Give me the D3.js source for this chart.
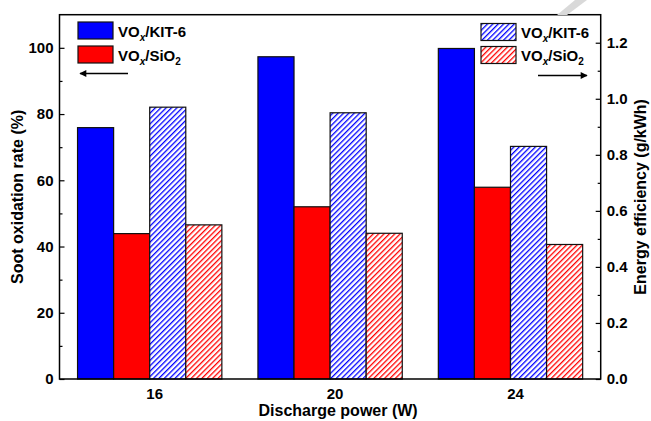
<!DOCTYPE html>
<html>
<head>
<meta charset="utf-8">
<title>Soot oxidation rate and energy efficiency</title>
<script src="https://cdn.jsdelivr.net/npm/d3@7"></script>
<style>
  body { margin: 0; background: #fff; }
  svg { font-family: "Liberation Sans", Arial, sans-serif; font-weight: bold; }
  .axis path { display: none; }
  .axis line { stroke: #000; stroke-width: 1.2px; }
  .axis text { font-size: 15px; font-weight: bold; fill: #000; }
  .frame { fill: none; stroke: #000; stroke-width: 1.5px; }
  .title { font-size: 16px; font-weight: bold; fill: #000; }
  .leg { font-size: 15px; font-weight: bold; fill: #000; }
</style>
</head>
<body>
<svg width="651" height="421"></svg>
<script>
// data
var powers = ["16", "20", "24"];
var kitRate = [75.9, 97.3, 99.8];   // VOx/KIT-6, soot oxidation rate (%)
var sioRate = [43.9, 52.0, 57.9];   // VOx/SiO2, soot oxidation rate (%)
var kitEff = [0.97, 0.95, 0.83];    // VOx/KIT-6, energy efficiency (g/kWh)
var sioEff = [0.55, 0.52, 0.48];    // VOx/SiO2, energy efficiency (g/kWh)
var leftTicks = [0, 20, 40, 60, 80, 100];
var rightTicks = [0, 0.2, 0.4, 0.6, 0.8, 1.0, 1.2];

var svg = d3.select("svg"),
    margin = {top: 14.7, right: 50.3, bottom: 42, left: 59.5},
    width = 651 - margin.left - margin.right,
    height = 421 - margin.top - margin.bottom,
    g = svg.append("g").attr("transform", "translate(" + margin.left + "," + margin.top + ")");

var defs = svg.append("defs");
function hatch(id, color) {
  var p = defs.append("pattern")
      .attr("id", id)
      .attr("patternUnits", "userSpaceOnUse")
      .attr("width", 3.8).attr("height", 3.8)
      .attr("patternTransform", "rotate(45)");
  p.append("rect").attr("width", 3.8).attr("height", 3.8).attr("fill", "#fff");
  p.append("line").attr("x1", 0).attr("y1", 0).attr("x2", 0).attr("y2", 3.8)
      .attr("stroke", color).attr("stroke-width", 2.6);
}
hatch("hb", "#0000ff");
hatch("hr", "#ff0000");

// watermark stripe
svg.append("polygon")
    .attr("points", "575,0 587,0 567,15 557,15")
    .attr("fill", "#d9d9d9");

var x0 = d3.scaleBand().domain(powers).range([0, width]).paddingInner(0.2).paddingOuter(0.1);
var series = [
  {key: "kitRate", vals: kitRate, axis: "L", fill: "#0000ff"},
  {key: "sioRate", vals: sioRate, axis: "L", fill: "#ff0000"},
  {key: "kitEff", vals: kitEff, axis: "R", fill: "url(#hb)"},
  {key: "sioEff", vals: sioEff, axis: "R", fill: "url(#hr)"}
];
var x1 = d3.scaleBand().domain(series.map(function(s) { return s.key; })).range([0, x0.bandwidth()]);
var yL = d3.scaleLinear().domain([0, 110]).range([height, 0]);
var yR = d3.scaleLinear().domain([0, 1.3]).range([height, 0]);

series.forEach(function(s) {
  var y = s.axis == "L" ? yL : yR;
  g.selectAll(".bar-" + s.key)
    .data(s.vals)
    .enter().append("rect")
      .attr("x", function(d, i) { return x0(powers[i]) + x1(s.key); })
      .attr("y", function(d) { return y(d); })
      .attr("width", x1.bandwidth())
      .attr("height", function(d) { return height - y(d); })
      .attr("fill", s.fill)
      .attr("stroke", "#111")
      .attr("stroke-width", 1.2);
});

// axes
g.append("g").attr("class", "axis")
    .call(d3.axisLeft(yL).tickValues(leftTicks).tickSize(-5).tickPadding(6));
g.append("g").attr("class", "axis")
    .call(d3.axisLeft(yL).tickValues([10, 30, 50, 70, 90]).tickSize(-3).tickFormat(""));
g.append("g").attr("class", "axis")
    .attr("transform", "translate(" + width + ",0)")
    .call(d3.axisRight(yR).tickValues(rightTicks).tickSize(-5).tickPadding(6).tickFormat(d3.format(".1f")));
g.append("g").attr("class", "axis")
    .attr("transform", "translate(" + width + ",0)")
    .call(d3.axisRight(yR).tickValues([0.1, 0.3, 0.5, 0.7, 0.9, 1.1]).tickSize(-3).tickFormat(""));
g.append("g").attr("class", "axis")
    .attr("transform", "translate(0," + height + ")")
    .call(d3.axisBottom(x0).tickSize(0).tickPadding(9))
  .selectAll("text").attr("dx", 5);

g.append("rect").attr("class", "frame").attr("width", width).attr("height", height);

// axis titles
svg.append("text").attr("class", "title")
    .attr("text-anchor", "middle")
    .attr("x", margin.left + width / 2 + 8).attr("y", 416)
    .text("Discharge power (W)");
svg.append("text").attr("class", "title")
    .attr("text-anchor", "middle")
    .attr("transform", "translate(23," + (margin.top + height / 2) + ") rotate(-90)")
    .text("Soot oxidation rate (%)");
svg.append("text").attr("class", "title")
    .attr("text-anchor", "middle")
    .attr("transform", "translate(646," + (margin.top + height / 2) + ") rotate(-90)")
    .text("Energy efficiency (g/kWh)");

// legends
function legendLabel(sel, tail, sub) {
  sel.append("tspan").text("VO");
  sel.append("tspan").attr("font-size", "10px").attr("font-style", "italic").attr("dy", 4).text("x");
  sel.append("tspan").attr("dy", -4).text(tail);
  if (sub) sel.append("tspan").attr("font-size", "10px").attr("dy", 4).text(sub);
}
var legends = [
  {x: 78, y: 22, fill: "#0000ff", tail: "/KIT-6", sub: null},
  {x: 78, y: 46, fill: "#ff0000", tail: "/SiO", sub: "2"},
  {x: 481, y: 23.5, fill: "url(#hb)", tail: "/KIT-6", sub: null},
  {x: 481, y: 46.5, fill: "url(#hr)", tail: "/SiO", sub: "2"}
];
legends.forEach(function(l) {
  svg.append("rect")
      .attr("x", l.x).attr("y", l.y).attr("width", 35).attr("height", 17)
      .attr("fill", l.fill).attr("stroke", "#111").attr("stroke-width", 1.2);
  var t = svg.append("text").attr("class", "leg").attr("x", l.x + 40).attr("y", l.y + 14.5);
  legendLabel(t, l.tail, l.sub);
});

// arrows pointing to the axis each pair belongs to
defs.append("marker").attr("id", "ah")
    .attr("viewBox", "0 0 10 10").attr("refX", 9).attr("refY", 5)
    .attr("markerWidth", 9).attr("markerHeight", 7).attr("markerUnits", "userSpaceOnUse")
    .attr("orient", "auto")
  .append("path").attr("d", "M0,0L10,5L0,10Z").attr("fill", "#000");
svg.append("line").attr("x1", 128).attr("y1", 73.5).attr("x2", 80).attr("y2", 73.5)
    .attr("stroke", "#000").attr("stroke-width", 1.5).attr("marker-end", "url(#ah)");
svg.append("line").attr("x1", 538).attr("y1", 75.5).attr("x2", 587).attr("y2", 75.5)
    .attr("stroke", "#000").attr("stroke-width", 1.5).attr("marker-end", "url(#ah)");
</script>
</body>
</html>
